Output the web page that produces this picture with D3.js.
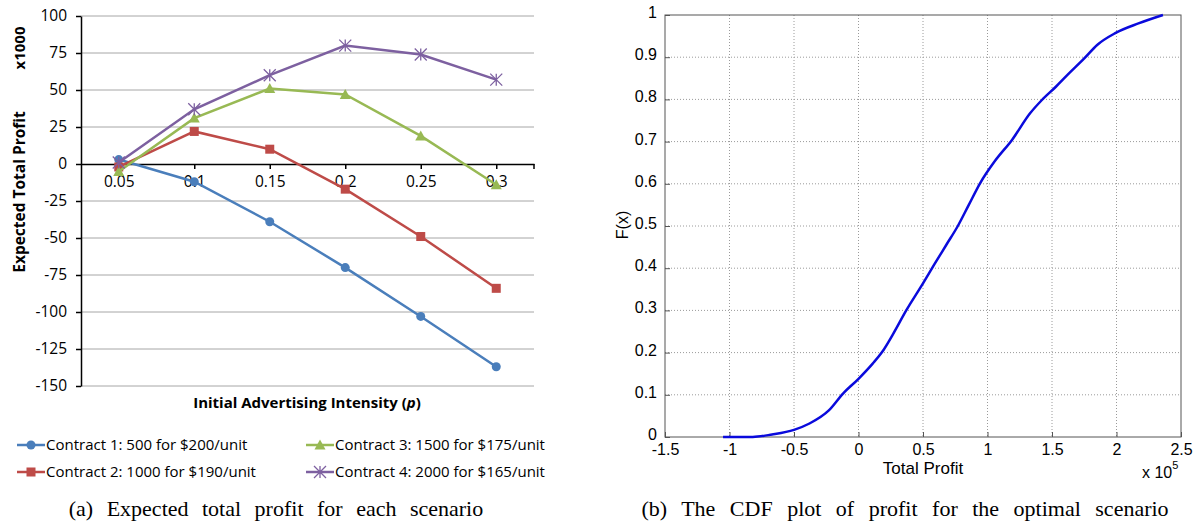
<!DOCTYPE html>
<html lang="en">
<head>
    <meta charset="UTF-8">
    <title>Profit charts</title>
    <style>
        body { margin: 0; background: #fff; }
        text { fill: #000; }
    </style>
</head>
<body>
    <svg width="1196" height="523"></svg>
    <script src="https://d3js.org/d3.v7.min.js"></script>
<script>

// ---- data: left chart (x1000) ----
const intensities = ["0.05", "0.1", "0.15", "0.2", "0.25", "0.3"];
const contract1 = [3, -12, -39, -70, -103, -137];
const contract2 = [-2, 22, 10, -17, -49, -84];
const contract3 = [-5, 31, 51, 47, 19, -14];
const contract4 = [1, 37, 60, 80, 74, 57];
const contractNames = [
    "Contract 1: 500 for $200/unit",
    "Contract 2: 1000 for $190/unit",
    "Contract 3: 1500 for $175/unit",
    "Contract 4: 2000 for $165/unit"
];
const profitTicks = [100, 75, 50, 25, 0, -25, -50, -75, -100, -125, -150];

// ---- data: right chart (profit in units of 1e5, CDF) ----
const cdfProfit = [-1.05, -0.82, -0.67, -0.5, -0.38, -0.23, -0.12, 0.0, 0.11, 0.18, 0.27, 0.37, 0.5, 0.59, 0.68, 0.77, 0.855,
    0.94, 1.06, 1.19, 1.33, 1.42, 1.53, 1.62, 1.75, 1.85, 1.99, 2.17, 2.36];
const cdfF = [0, 0, 0.006, 0.017, 0.032, 0.063, 0.103, 0.138, 0.174, 0.2, 0.245, 0.3, 0.364, 0.41, 0.455, 0.5, 0.55,
    0.6, 0.655, 0.704, 0.767, 0.798, 0.83, 0.858, 0.897, 0.929, 0.957, 0.98, 1.0];
const profitXTicks = [-1.5, -1, -0.5, 0, 0.5, 1, 1.5, 2, 2.5];
const fTicks = [0, 0.1, 0.2, 0.3, 0.4, 0.5, 0.6, 0.7, 0.8, 0.9, 1];

const svg = d3.select("svg");

// ================= left chart =================
const L = { left: 81, right: 534, top: 16, bottom: 386 };
const excelFont = "'Open Sans', Lato, sans-serif";

const x = d3.scalePoint().domain(intensities).range([L.left, L.right]).padding(0.5);
const y = d3.scaleLinear().domain([-150, 100]).range([L.bottom, L.top]);

const left = svg.append("g");

// horizontal gridlines
left.selectAll(".grid")
    .data(profitTicks.filter(d => d !== 0))
    .enter()
    .append("line")
    .attr("x1", L.left).attr("x2", L.right)
    .attr("y1", d => y(d)).attr("y2", d => y(d))
    .attr("stroke", "#a6a6a6").attr("stroke-width", 1);

// y axis
const yAxis = left.append("g")
    .attr("transform", `translate(${L.left},0)`)
    .call(d3.axisLeft(y).tickValues(profitTicks).tickFormat(d => String(d)).tickSize(5).tickPadding(9).tickSizeOuter(0));
yAxis.select(".domain").attr("stroke", "#000").attr("stroke-width", 1.5);
yAxis.selectAll("line").attr("stroke", "#000").attr("stroke-width", 1.5);
yAxis.selectAll("text").attr("font-family", excelFont).attr("font-size", 15.5).attr("fill", "#222");

// x axis at zero
const xAxis = left.append("g")
    .attr("transform", `translate(0,${y(0)})`)
    .call(d3.axisBottom(x).tickSize(5).tickPadding(7).tickSizeOuter(0));
xAxis.select(".domain").attr("stroke", "#000").attr("stroke-width", 1.5);
xAxis.selectAll("line").attr("stroke", "#000").attr("stroke-width", 1.5);
xAxis.selectAll("text").attr("font-family", excelFont).attr("font-size", 15.5).attr("fill", "#222");
left.append("line")
    .attr("x1", L.right).attr("x2", L.right)
    .attr("y1", y(0)).attr("y2", y(0) + 5)
    .attr("stroke", "#000").attr("stroke-width", 1.5);

const series = [
    { values: contract1, color: "#4a7ebb", marker: "circle" },
    { values: contract2, color: "#be4b48", marker: "square" },
    { values: contract3, color: "#98b954", marker: "triangle" },
    { values: contract4, color: "#7d60a0", marker: "star" }
];

const line = d3.line().x((d, i) => x(intensities[i])).y(d => y(d));

function drawMarker(g, type, cx, cy, color) {
    if (type === "circle") {
        g.append("circle").attr("cx", cx).attr("cy", cy).attr("r", 4.5).attr("fill", color);
    } else if (type === "square") {
        g.append("rect").attr("x", cx - 4.5).attr("y", cy - 4.5).attr("width", 9).attr("height", 9).attr("fill", color);
    } else if (type === "triangle") {
        g.append("path").attr("d", `M${cx},${cy - 5.5}L${cx + 5.5},${cy + 4.5}L${cx - 5.5},${cy + 4.5}Z`).attr("fill", color);
    } else {
        const r = 6;
        g.append("path")
            .attr("d", `M${cx - r},${cy - r}L${cx + r},${cy + r}M${cx - r},${cy + r}L${cx + r},${cy - r}M${cx},${cy - r}L${cx},${cy + r}`)
            .attr("stroke", color).attr("stroke-width", 1.3).attr("fill", "none");
    }
}

series.forEach(s => {
    left.append("path")
        .attr("d", line(s.values))
        .attr("fill", "none")
        .attr("stroke", s.color)
        .attr("stroke-width", 2.5);
    s.values.forEach((v, i) => drawMarker(left, s.marker, x(intensities[i]), y(v), s.color));
});

// axis titles
left.append("text")
    .attr("transform", `translate(25,48) rotate(-90)`)
    .attr("text-anchor", "middle")
    .attr("font-family", excelFont).attr("font-size", 15).attr("font-weight", "bold")
    .text("x1000");
left.append("text")
    .attr("transform", `translate(25,192) rotate(-90)`)
    .attr("text-anchor", "middle")
    .attr("font-family", excelFont).attr("font-size", 15.5).attr("font-weight", "bold")
    .text("Expected Total Profit");
const xt = left.append("text")
    .attr("x", 307).attr("y", 408)
    .attr("text-anchor", "middle")
    .attr("font-family", excelFont).attr("font-size", 15).attr("font-weight", "bold");
xt.append("tspan").text("Initial Advertising Intensity (");
xt.append("tspan").attr("font-style", "italic").text("p");
xt.append("tspan").text(")");

// legend
const legendPos = [[17, 445], [17, 472], [306, 445], [306, 472]];
series.forEach((s, i) => {
    const [lx, ly] = legendPos[i];
    left.append("line")
        .attr("x1", lx).attr("x2", lx + 28).attr("y1", ly).attr("y2", ly)
        .attr("stroke", s.color).attr("stroke-width", 2.5);
    drawMarker(left, s.marker, lx + 14, ly, s.color);
    left.append("text")
        .attr("x", lx + 29).attr("y", ly + 5)
        .attr("font-family", excelFont).attr("font-size", 15).attr("fill", "#222")
        .text(contractNames[i]);
});

// caption
svg.append("text")
    .attr("x", 276).attr("y", 516)
    .attr("text-anchor", "middle")
    .attr("font-family", "'Liberation Serif', 'DejaVu Serif', serif").attr("font-size", 22)
    .attr("word-spacing", 8)
    .text("(a) Expected total profit for each scenario");

// ================= right chart =================
const R = { left: 665, right: 1181, top: 15, bottom: 437 };
const matFont = "'Liberation Sans', Arial, sans-serif";
const xr = d3.scaleLinear().domain([-1.5, 2.5]).range([R.left, R.right]);
const yr = d3.scaleLinear().domain([0, 1]).range([R.bottom, R.top]);

const right = svg.append("g");

// dotted grid
right.selectAll(".vgrid")
    .data(profitXTicks.slice(1, -1))
    .enter().append("line")
    .attr("x1", d => xr(d)).attr("x2", d => xr(d))
    .attr("y1", R.top).attr("y2", R.bottom)
    .attr("stroke", "#9a9a9a").attr("stroke-dasharray", "1,2");
right.selectAll(".hgrid")
    .data(fTicks.slice(1, -1))
    .enter().append("line")
    .attr("x1", R.left).attr("x2", R.right)
    .attr("y1", d => yr(d)).attr("y2", d => yr(d))
    .attr("stroke", "#9a9a9a").attr("stroke-dasharray", "1,2");

// box
right.append("rect")
    .attr("x", R.left).attr("y", R.top)
    .attr("width", R.right - R.left).attr("height", R.bottom - R.top)
    .attr("fill", "none").attr("stroke", "#555").attr("stroke-width", 1);

// axes with inward ticks
const xrAxis = right.append("g")
    .attr("transform", `translate(0,${R.bottom})`)
    .call(d3.axisBottom(xr).tickValues(profitXTicks).tickFormat(d => String(d)).tickSize(-5).tickPadding(7).tickSizeOuter(0));
const yrAxis = right.append("g")
    .attr("transform", `translate(${R.left},0)`)
    .call(d3.axisLeft(yr).tickValues(fTicks).tickFormat(d => String(d)).tickSize(-5).tickPadding(8).tickSizeOuter(0));
[xrAxis, yrAxis].forEach(a => {
    a.select(".domain").remove();
    a.selectAll("line").attr("stroke", "#555");
    a.selectAll("text").attr("font-family", matFont).attr("font-size", 16).attr("fill", "#111");
});
yrAxis.selectAll("text").attr("dy", "0.15em");

// CDF curve
const cdfLine = d3.line()
    .x((d, i) => xr(cdfProfit[i]))
    .y(d => yr(d))
    .curve(d3.curveMonotoneX);
right.append("path")
    .attr("d", cdfLine(cdfF))
    .attr("fill", "none")
    .attr("stroke", "#0a0adc")
    .attr("stroke-width", 2.5);

// labels
right.append("text")
    .attr("x", (R.left + R.right) / 2).attr("y", 474)
    .attr("text-anchor", "middle")
    .attr("font-family", matFont).attr("font-size", 17)
    .text("Total Profit");
right.append("text")
    .attr("transform", `translate(628,225) rotate(-90)`)
    .attr("text-anchor", "middle")
    .attr("font-family", matFont).attr("font-size", 16)
    .text("F(x)");
const mult = right.append("text")
    .attr("x", 1142).attr("y", 478)
    .attr("font-family", matFont).attr("font-size", 16);
mult.append("tspan").text("x 10");
mult.append("tspan").attr("dy", -9).attr("font-size", 11).text("5");

svg.append("text")
    .attr("x", 905).attr("y", 516)
    .attr("text-anchor", "middle")
    .attr("font-family", "'Liberation Serif', 'DejaVu Serif', serif").attr("font-size", 22)
    .attr("word-spacing", 9)
    .text("(b) The CDF plot of profit for the optimal scenario");

</script>
</body>
</html>
